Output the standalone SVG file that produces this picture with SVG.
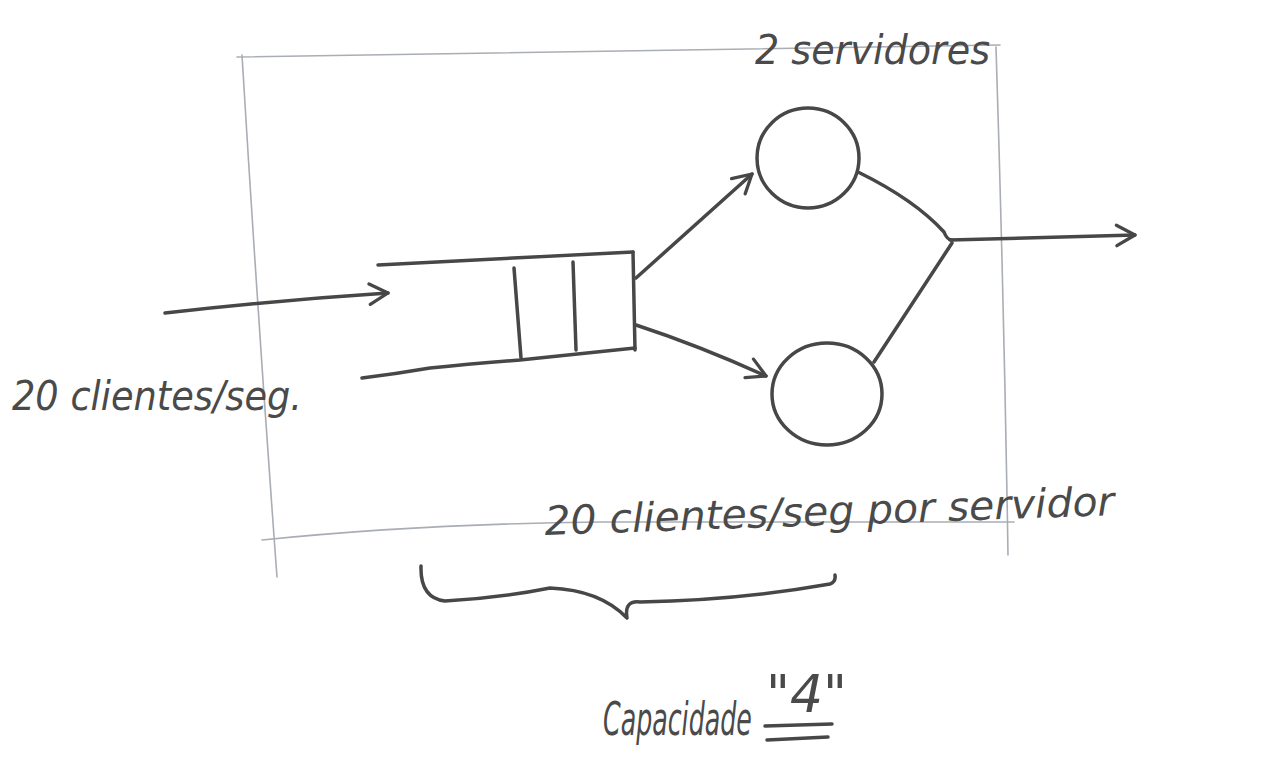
<svg xmlns="http://www.w3.org/2000/svg" width="1287" height="763" viewBox="0 0 1287 763">
<defs>
<style>
.pen{fill:none;stroke:#474747;stroke-width:3.5;stroke-linecap:round;stroke-linejoin:round}
.pencil{fill:none;stroke:#a9adb4;stroke-width:1.6;stroke-linecap:round}
.hand{font-family:"DejaVu Sans","Liberation Sans",sans-serif;font-style:italic;fill:#4a4a4a}
</style>
<marker id="chev" viewBox="0 0 12 12" refX="10" refY="6" markerWidth="7" markerHeight="7" markerUnits="strokeWidth" orient="auto">
<path d="M1,1 L10,6 L1,11" fill="none" stroke="#474747" stroke-width="1.6" stroke-linecap="round" stroke-linejoin="round"/>
</marker>
</defs>
<rect width="1287" height="763" fill="#ffffff"/>
<g id="system-boundary">
<path class="pencil" d="M237,57 Q600,50 1000,45"/>
<path class="pencil" d="M242,55 Q258,320 277,577"/>
<path class="pencil" d="M262,540 Q420,524 600,522 Q800,522 1014,522"/>
<path class="pencil" d="M996,47 Q1004,300 1008,555"/>
</g>
<g id="queue">
<path class="pen" d="M378,265 L633,252"/>
<path class="pen" d="M633,252 L635,350"/>
<path class="pen" d="M362,378 Q395,374 430,368 Q470,364 520,360 L635,348"/>
<path class="pen" d="M514,268 L521,358"/>
<path class="pen" d="M573,262 L576,350"/>
</g>
<g id="server1">
<ellipse class="pen" cx="808" cy="158" rx="51" ry="50"/>
</g>
<g id="server2">
<ellipse class="pen" cx="827" cy="394" rx="55" ry="51"/>
</g>
<g id="connectors">
<path class="pen" d="M165,313 Q280,300 388,293" marker-end="url(#chev)"/>
<path class="pen" d="M636,278 L752,174" marker-end="url(#chev)"/>
<path class="pen" d="M636,325 Q700,346 766,376" marker-end="url(#chev)"/>
<path class="pen" d="M858,172 Q915,200 944,232 Q947,240 952,240"/>
<path class="pen" d="M874,362 L952,243"/>
<path class="pen" d="M950,240 L1135,235" marker-end="url(#chev)"/>
</g>
<g id="brace">
<path class="pen" d="M421,566 Q420,598 445,601 Q500,598 550,588 Q600,590 627,618 Q624,600 640,602 Q740,600 830,584 Q836,582 835,575"/>
</g>
<g id="labels">
<text class="hand" x="755" y="64" font-size="40" textLength="235" lengthAdjust="spacingAndGlyphs">2 servidores</text>
<text class="hand" x="12" y="410" font-size="40" textLength="290" lengthAdjust="spacingAndGlyphs">20 clientes/seg.</text>
<text class="hand" x="545" y="535" font-size="40" textLength="570" lengthAdjust="spacingAndGlyphs" transform="rotate(-2 545 535)">20 clientes/seg por servidor</text>
<text class="hand" font-size="46" transform="translate(603,735) scale(0.55,1)">Capacidade</text>
<text class="hand" x="766" y="712" font-size="52">"4"</text>
<path class="pen" d="M765,726 L832,724"/>
<path class="pen" d="M767,740 L828,737"/>
</g>
</svg>
